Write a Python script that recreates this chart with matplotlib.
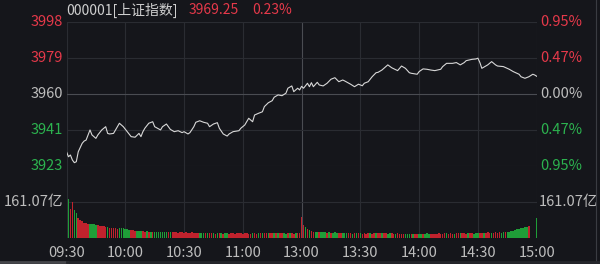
import matplotlib
matplotlib.use('Agg')
import numpy as np
import matplotlib.pyplot as plt

plt.rcParams['font.family'] = ['Noto Sans CJK SC', 'DejaVu Sans']

# intraday minute line, minutes after 09:30 (lunch break removed)
line_min = [0, 1, 2, 3, 4, 5, 6, 8, 9, 10, 12, 13, 15, 16, 18, 20, 21, 22, 24, 26,
            27, 29, 31, 33, 35, 37, 38, 39, 40, 42, 44, 45, 48, 49, 51, 53, 55, 57, 59, 60,
            62, 63, 65, 66, 68, 70, 72, 73, 75, 77, 78, 80, 82, 83, 85, 88, 89, 91, 93, 95,
            96, 98, 100, 101, 103, 105, 106, 108, 110, 112, 113, 115, 116, 118, 119, 120, 121, 123, 124, 125,
            126, 128, 129, 131, 133, 135, 137, 139, 141, 142, 145, 147, 149, 151, 152, 154, 156, 158, 159, 161,
            163, 164, 166, 169, 171, 173, 175, 176, 179, 180, 182, 184, 186, 188, 191, 192, 194, 197, 199, 201,
            203, 204, 207, 209, 210, 211, 212, 214, 215, 217, 219, 220, 223, 226, 228, 231, 232, 234, 236, 238,
            239, 240]
line_price = [3929.8, 3927.2, 3928.1, 3925.5, 3924.1, 3924.6, 3929.8, 3934.2, 3935.4, 3935.9,
              3941.2, 3938.6, 3936.8, 3938.6, 3941.2, 3942.9, 3939.4, 3939.1, 3939.4, 3942.9,
              3944.7, 3942.9, 3940.3, 3937.7, 3937.4, 3939.4, 3937.7, 3940.3, 3942.1, 3944.7,
              3945.5, 3942.9, 3941.2, 3942.9, 3944.3, 3941.5, 3940.3, 3940.8, 3939.8, 3940.3,
              3939.1, 3939.8, 3942.9, 3945.2, 3946.0, 3945.2, 3944.7, 3942.9, 3944.3, 3945.0,
              3942.1, 3939.1, 3938.0, 3939.1, 3940.3, 3940.8, 3942.1, 3943.8, 3947.3, 3945.5,
              3949.0, 3949.9, 3950.7, 3953.4, 3955.4, 3956.5, 3958.3, 3959.5, 3959.1, 3960.4,
              3963.0, 3964.2, 3961.2, 3963.0, 3962.1, 3964.0, 3963.0, 3965.6, 3963.8, 3965.9,
              3963.8, 3966.1, 3964.7, 3964.2, 3965.6, 3967.7, 3968.5, 3966.4, 3967.3, 3966.8,
              3965.1, 3963.8, 3965.1, 3964.3, 3965.6, 3966.4, 3969.0, 3971.1, 3971.3, 3972.5,
              3974.3, 3975.2, 3973.7, 3972.2, 3974.6, 3973.4, 3971.1, 3970.8, 3970.3, 3971.7,
              3973.1, 3972.9, 3972.5, 3972.2, 3972.9, 3974.3, 3976.0, 3976.0, 3976.4, 3975.2,
              3976.4, 3977.4, 3978.1, 3978.3, 3978.7, 3976.4, 3973.4, 3974.6, 3975.2, 3976.9,
              3975.2, 3974.6, 3974.3, 3972.9, 3971.7, 3970.3, 3969.0, 3968.2, 3969.0, 3970.3,
              3969.9, 3969.25]

# per-minute turnover, 亿
volume = [322, 176, 132, 161, 125, 110, 88, 80, 76, 69, 66, 64, 62, 64, 63, 60, 57, 55, 56, 54,
          51, 50, 46, 45, 44, 45, 43, 44, 45, 44, 43, 42, 38, 37, 36, 34, 33, 33, 32, 31,
          30, 31, 29, 30, 28, 29, 30, 28, 27, 28, 29, 28, 26, 27, 28, 26, 27, 25, 26, 27,
          25, 26, 24, 25, 26, 24, 23, 25, 24, 23, 22, 24, 23, 22, 24, 23, 21, 22, 23, 22,
          21, 23, 22, 20, 22, 23, 21, 22, 24, 22, 21, 23, 22, 21, 20, 22, 23, 21, 22, 24,
          23, 22, 24, 25, 23, 22, 24, 23, 25, 24, 22, 23, 21, 24, 22, 23, 21, 22, 24, 25,
          95, 60, 48, 40, 35, 31, 30, 28, 29, 27, 26, 28, 27, 25, 26, 24, 25, 26, 24, 23,
          25, 24, 22, 23, 24, 22, 21, 23, 22, 24, 23, 21, 22, 20, 22, 23, 21, 22, 24, 23,
          22, 23, 24, 22, 21, 23, 22, 20, 21, 22, 20, 19, 21, 20, 19, 20, 21, 19, 20, 21,
          20, 19, 21, 20, 22, 21, 20, 19, 21, 20, 22, 21, 20, 22, 23, 21, 22, 20, 21, 23,
          22, 24, 23, 22, 21, 23, 24, 22, 21, 23, 24, 22, 25, 23, 24, 26, 24, 23, 25, 26,
          24, 26, 25, 27, 28, 27, 30, 32, 34, 36, 40, 42, 44, 46, 48, 50, 55, 0, 0, 0,
          92]
vol_side = ("ggrrggrrrr" "rrggggrrrr" "rgrrrrrggg" "gggrrrgggr" "rgrgrggggg" "ggrgrrrrrr"
            "rrrrrrrrgg" "grgrrgrgrg" "rggrrrrrrr" "rrrrrgrrgr" "grrgrrgrgr" "rggrgrrgrr"
            "rrgrgrrggr" "gggrgrgggr" "rgggrrgrgr" "grrrrgrrgr" "rgrrggrrgr" "rrrgggrgrr"
            "ggrgggrrrr" "rrrrgrrrgr" "rgrrrgrrgg" "grrgrrrgrr" "rrggrggggg" "ggggggrrrr"
            "g")

pre_close = 3960.14
last_price = 3969.25
price_ticks = [3998, 3979, 3960, 3941, 3923]
pct_labels = ['0.95%', '0.47%', '0.00%', '0.47%', '0.95%']
time_labels = ['09:30', '10:00', '10:30', '11:00', '13:00', '13:30', '14:00', '14:30', '15:00']
vol_mid = 161.07

BG = '#15161b'
GRID = '#2a2c32'
RED = '#e5394a'
GREEN = '#2cb34f'
GRAY = '#bdbdbd'
FS = 10.5
tick_colors = [RED, RED, GRAY, GREEN, GREEN]

fig = plt.figure(figsize=(6, 2.64), dpi=100)
fig.patch.set_facecolor(BG)

W, H = 600., 264.
x0, x1 = 66.5, 536.7
ax = fig.add_axes([x0/W, 1 - 165.7/H, (x1 - x0)/W, (165.7 - 21.7)/H])
axv = fig.add_axes([x0/W, 1 - 238.3/H, (x1 - x0)/W, (238.3 - 165.7)/H])

lo = pre_close * (1 - 0.0095)
hi = pre_close * (1 + 0.0095)
tick_pos = [pre_close * (1 + k * 0.00475) for k in (2, 1, 0, -1, -2)]

for a in (ax, axv):
    a.set_facecolor(BG)
    a.set_xlim(0, 240)
    for s in a.spines.values():
        s.set_visible(False)
    a.tick_params(length=0)
    a.set_xticks([])
    a.set_yticks([])
    for k in range(9):
        c = '#4a4c52' if k == 4 else GRID
        a.axvline(k * 30, color=c, lw=0.8, zorder=0)

ax.set_ylim(lo, hi)
for i, yv in enumerate(tick_pos):
    c = '#4a4c52' if i == 2 else GRID
    ax.axhline(yv, color=c, lw=0.8, zorder=0)
    ax.text(-0.008, yv, str(price_ticks[i]), transform=ax.get_yaxis_transform(),
            ha='right', va='center', fontsize=FS, color=tick_colors[i])
    ax.text(1.008, yv, pct_labels[i], transform=ax.get_yaxis_transform(),
            ha='left', va='center', fontsize=FS, color=tick_colors[i])

ax.plot(line_min, line_price, color='#d8d8d8', lw=0.8, zorder=3)

# volume panel
vmax = max(volume)
axv.set_ylim(0, vmax)
axv.axhline(vol_mid, color=GRID, lw=0.8, zorder=0)
vcol = ['#c0222d' if s == 'r' else '#1f9e38' for s in vol_side]
axv.bar(np.arange(len(volume)), volume, width=0.8, color=vcol, zorder=2,
        linewidth=0, antialiased=False)
axv.text(-0.006, vol_mid, '%.2f亿' % vol_mid, transform=axv.get_yaxis_transform(),
         ha='right', va='center', fontsize=FS, color=GRAY)
axv.text(1.004, vol_mid, '%.2f亿' % vol_mid, transform=axv.get_yaxis_transform(),
         ha='left', va='center', fontsize=FS, color=GRAY)

for k, lab in enumerate(time_labels):
    axv.text(k * 30, -0.2, lab, transform=axv.get_xaxis_transform(),
             ha='center', va='center', fontsize=FS, color=GRAY)

# header
pct = (last_price - pre_close) / pre_close * 100
fig.text(66/W, 1 - 10/H, '000001[上证指数]', ha='left', va='center', fontsize=10, color='#cfcfcf')
fig.text(189/W, 1 - 10/H, '%.2f' % last_price, ha='left', va='center', fontsize=10, color=RED)
fig.text(252/W, 1 - 10/H, '%.2f%%' % pct, ha='left', va='center', fontsize=10, color=RED)

# frame bits at the edges
fig.add_artist(plt.Line2D([595.5/W, 595.5/W], [0, 1], color='#3a3c42', lw=0.8))
fig.add_artist(plt.Line2D([0, 67/W], [1 - 262/H, 1 - 262/H], color='#45464b', lw=2))
fig.add_artist(plt.Line2D([67/W, 1], [1 - 262/H, 1 - 262/H], color='#25262b', lw=2))

fig.savefig('out.png', dpi=100, facecolor=BG)
